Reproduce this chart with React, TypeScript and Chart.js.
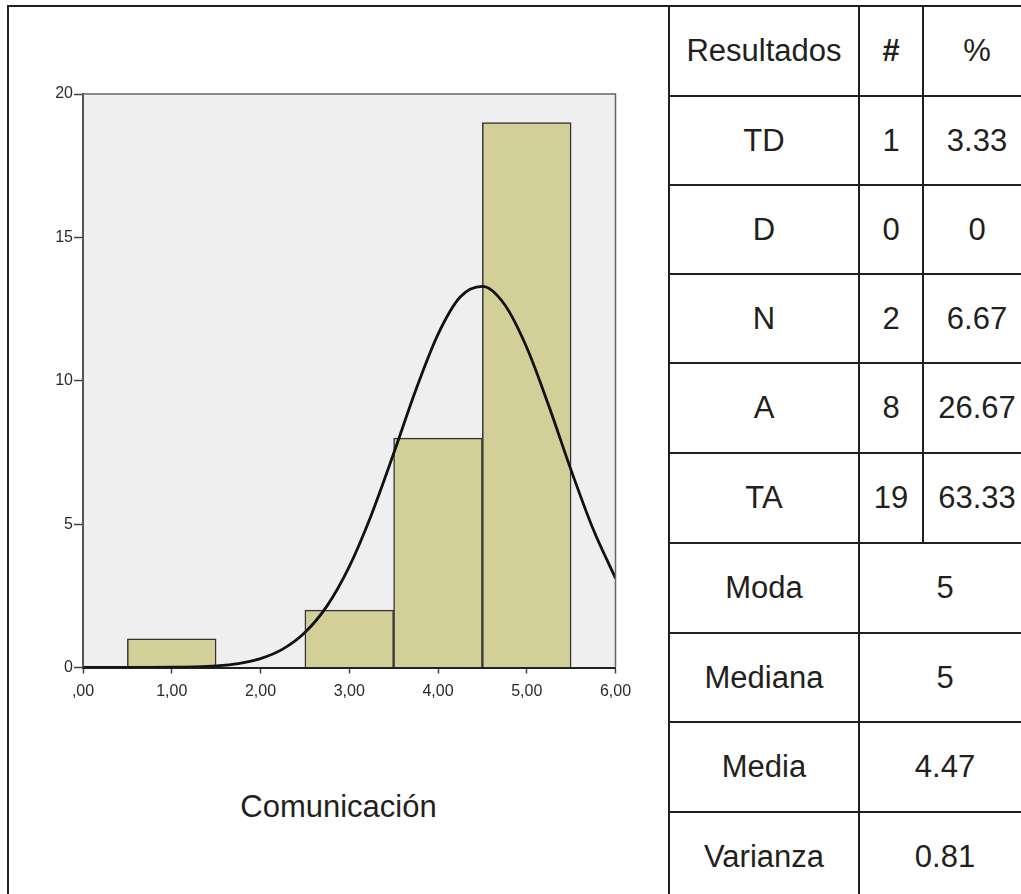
import React, { useEffect, useRef } from "react";
import { Chart, registerables } from "chart.js";

Chart.register(...registerables);

// Histogram data (bin centres and counts)
const binCenters = [1, 3, 4, 5];
const binCounts = [1, 2, 8, 19];

// Normal curve (x, frequency)
const curveX = [0, 0.25, 0.5, 0.75, 1, 1.25, 1.5, 1.75, 2, 2.25, 2.5, 2.75, 3, 3.25, 3.5, 3.75, 4, 4.25, 4.5, 4.75, 5, 5.25, 5.5, 5.75, 6];
const curveY = [0, 0.0002, 0.0008, 0.0023, 0.008, 0.023, 0.058, 0.139, 0.31, 0.64, 1.22, 2.15, 3.52, 5.33, 7.46, 9.68, 11.62, 12.92, 13.29, 12.66, 11.16, 9.11, 6.88, 4.81, 3.11];

// Tick labels
const xTickLabels = [",00", "1,00", "2,00", "3,00", "4,00", "5,00", "6,00"];
const yTickLabels = ["0", "5", "10", "15", "20"];

const chartTitle = "Comunicación";

// Table content
const tableHeader = ["Resultados", "#", "%"];
const categories = ["TD", "D", "N", "A", "TA"];
const counts = ["1", "0", "2", "8", "19"];
const percents = ["3.33", "0", "6.67", "26.67", "63.33"];
const statLabels = ["Moda", "Mediana", "Media", "Varianza"];
const statValues = ["5", "5", "4.47", "0.81"];

const rowY = [6, 96, 185, 274, 363, 453, 543, 633, 722, 812, 901];
const colX = [669, 859, 923, 1031];
const LINE = "#231f20";
const FONT = '"Liberation Sans", Arial, sans-serif';
const TICK_FONT = '"Liberation Sans Narrow", "Liberation Sans", Arial, sans-serif';

function Cell({ x0, x1, y0, y1, text, bold }: any) {
  return (
    <div
      style={{
        position: "absolute",
        left: x0,
        top: y0,
        width: x1 - x0,
        height: y1 - y0,
        display: "flex",
        alignItems: "center",
        justifyContent: "center",
        fontFamily: FONT,
        fontSize: 31,
        fontWeight: bold ? "bold" : "normal",
        color: "#231f20",
        whiteSpace: "nowrap",
      }}
    >
      {text}
    </div>
  );
}

function HLine({ x0, x1, y }: any) {
  return <div style={{ position: "absolute", left: x0 - 1, top: y - 1, width: x1 - x0 + 2, height: 2, background: LINE }} />;
}
function VLine({ x, y0, y1 }: any) {
  return <div style={{ position: "absolute", left: x - 1, top: y0 - 1, width: 2, height: y1 - y0 + 2, background: LINE }} />;
}

export default function App() {
  const canvasRef = useRef<HTMLCanvasElement>(null);

  useEffect(() => {
    const canvas = canvasRef.current!;
    const bgPlugin = {
      id: "plotBg",
      beforeDraw(chart: any) {
        const { ctx, chartArea: a } = chart;
        ctx.save();
        ctx.fillStyle = "#EFEFEF";
        ctx.fillRect(a.left, a.top, a.right - a.left, a.bottom - a.top);
        ctx.restore();
      },
      afterDraw(chart: any) {
        const { ctx, chartArea: a } = chart;
        ctx.save();
        ctx.strokeStyle = "#666";
        ctx.lineWidth = 1.5;
        ctx.beginPath();
        ctx.moveTo(a.left, a.top);
        ctx.lineTo(a.right, a.top);
        ctx.lineTo(a.right, a.bottom);
        ctx.stroke();
        ctx.restore();
      },
    };

    const chart = new Chart(canvas, {
      type: "bar",
      data: {
        datasets: [
          {
            type: "line",
            data: curveX.map((x, i) => ({ x, y: curveY[i] })),
            borderColor: "#111",
            borderWidth: 2.8,
            pointRadius: 0,
            cubicInterpolationMode: "monotone",
            fill: false,
            order: 0,
          } as any,
          {
            type: "bar",
            data: binCenters.map((x, i) => ({ x, y: binCounts[i] })),
            backgroundColor: "#D3CF98",
            borderColor: "#333",
            borderWidth: 1.5,
            barPercentage: 1,
            categoryPercentage: 1,
            order: 1,
          } as any,
        ],
      },
      options: {
        animation: false,
        responsive: false,
        maintainAspectRatio: false,
        layout: { padding: { left: 43, top: 94, right: 44.5, bottom: 12.5 } },
        plugins: { legend: { display: false }, tooltip: { enabled: false } },
        scales: {
          x: {
            type: "linear",
            min: 0,
            max: 6,
            offset: false,
            grid: { display: true, drawOnChartArea: false, drawTicks: true, tickLength: 6, tickWidth: 1.5, color: "#444", offset: false },
            border: { display: true, color: "#222", width: 2 },
            ticks: {
              stepSize: 1,
              padding: 8,
              color: "#2a2a2a",
              font: { family: TICK_FONT, size: 16 },
              callback: (v: any) => xTickLabels[Math.round(Number(v))],
              maxRotation: 0,
              autoSkip: false,
            },
            afterFit: (s: any) => {
              s.height = 40;
            },
          },
          y: {
            min: 0,
            max: 20,
            grid: { display: true, drawOnChartArea: false, drawTicks: true, tickLength: 9, tickWidth: 1.5, color: "#444" },
            border: { display: true, color: "#555", width: 2 },
            ticks: {
              stepSize: 5,
              padding: 1,
              color: "#2a2a2a",
              font: { family: TICK_FONT, size: 16 },
              callback: (v: any) => yTickLabels[Math.round(Number(v) / 5)],
            },
            afterFit: (s: any) => {
              s.width = 40;
            },
          },
        },
      } as any,
      plugins: [bgPlugin],
    });
    return () => chart.destroy();
  }, []);

  const cells: any[] = [];
  tableHeader.forEach((t, i) =>
    cells.push({ x0: colX[i], x1: colX[i + 1], y0: rowY[0], y1: rowY[1], text: t, bold: t === "#" })
  );
  categories.forEach((c, r) => {
    const y0 = rowY[r + 1], y1 = rowY[r + 2];
    cells.push({ x0: colX[0], x1: colX[1], y0, y1, text: c });
    cells.push({ x0: colX[1], x1: colX[2], y0, y1, text: counts[r] });
    cells.push({ x0: colX[2], x1: colX[3], y0, y1, text: percents[r] });
  });
  statLabels.forEach((s, r) => {
    const y0 = rowY[r + 6], y1 = rowY[r + 7];
    cells.push({ x0: colX[0], x1: colX[1], y0, y1, text: s });
    cells.push({ x0: colX[1], x1: colX[3], y0, y1, text: statValues[r] });
  });

  return (
    <div style={{ position: "fixed", left: 0, top: 0, width: 1021, height: 894, overflow: "hidden", background: "#fff" }}>
      <canvas ref={canvasRef} width={660} height={720} style={{ position: "absolute", left: 0, top: 0, width: 660, height: 720 }} />
      <div
        style={{
          position: "absolute",
          left: 8,
          width: 661,
          top: 787,
          height: 40,
          display: "flex",
          alignItems: "center",
          justifyContent: "center",
          fontFamily: FONT,
          fontSize: 31,
          color: "#231f20",
        }}
      >
        {chartTitle}
      </div>
      {cells.map((c, i) => (
        <Cell key={i} {...c} />
      ))}
      <HLine x0={8} x1={1040} y={rowY[0]} />
      {rowY.slice(1).map((y, i) => (
        <HLine key={"h" + i} x0={colX[0]} x1={1040} y={y} />
      ))}
      <VLine x={8} y0={rowY[0]} y1={910} />
      <VLine x={colX[0]} y0={rowY[0]} y1={910} />
      <VLine x={colX[1]} y0={rowY[0]} y1={910} />
      <VLine x={colX[2]} y0={rowY[0]} y1={rowY[6]} />
      <VLine x={colX[3]} y0={rowY[0]} y1={910} />
    </div>
  );
}
